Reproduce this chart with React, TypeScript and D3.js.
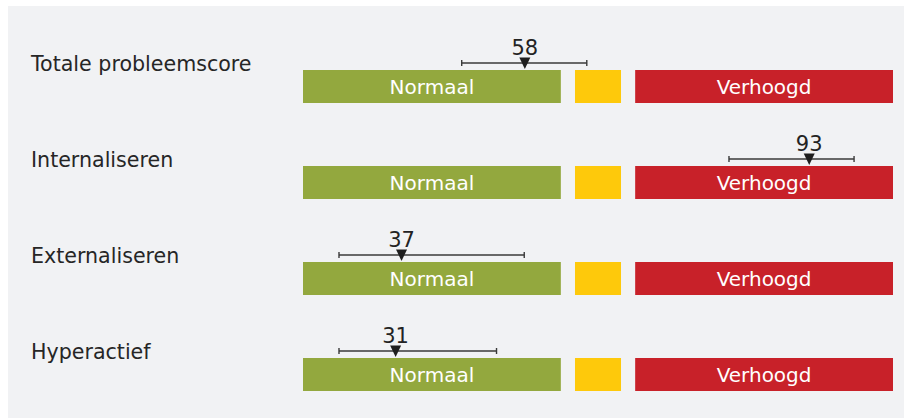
import * as d3 from 'd3'

// rows
const categories = ['Totale probleemscore', 'Internaliseren', 'Externaliseren', 'Hyperactief']
const scores = [58, 93, 37, 31]
// positions on the 0-100 band scale (marker and interval)
const markerPos = [37.6, 85.8, 16.7, 15.7]
const lowerPos = [26.9, 72.2, 6.1, 6.1]
const upperPos = [48.1, 93.4, 37.5, 32.8]

// zones on the same scale
const zoneLabels = ['Normaal', '', 'Verhoogd']
const zoneStart = [0, 46.1, 56.3]
const zoneEnd = [43.7, 53.9, 100]
const zoneColors = ['#93a83e', '#fec90b', '#c82129']

const W = 904
const H = 418
const FONT = '"DejaVu Sans", sans-serif'

export default function App() {
  const x = d3.scaleLinear().domain([0, 100]).range([303, 893])
  const y = d3.scaleBand<string>()
    .domain(categories)
    .range([70, 391])
    .paddingInner(0.65625)
    .paddingOuter(0)
  const bh = y.bandwidth()

  return (
    <svg width={W} height={H} style={{ position: 'absolute', left: 0, top: 0, display: 'block' }}>
      <rect x={8} y={6} width={W - 8} height={H - 6} fill="#f1f2f4" />
      {categories.map((c, i) => {
        const top = y(c) ?? 0
        const mx = x(markerPos[i])
        const ly = top - 7
        return (
          <g key={c}>
            <text x={31} y={top + 1} fontFamily={FONT} fontSize={20.6} fill="#262626">{c}</text>
            {zoneLabels.map((z, j) => (
              <g key={j}>
                <rect x={x(zoneStart[j])} y={top} width={x(zoneEnd[j]) - x(zoneStart[j])} height={bh}
                  fill={zoneColors[j]} />
                {z && (
                  <text x={(x(zoneStart[j]) + x(zoneEnd[j])) / 2} y={top + 24.3} textAnchor="middle"
                    fontFamily={FONT} fontSize={20} fill="#ffffff">{z}</text>
                )}
              </g>
            ))}
            <line x1={x(lowerPos[i])} x2={x(upperPos[i])} y1={ly} y2={ly} stroke="#3a3a3a" strokeWidth={1.4} />
            <line x1={x(lowerPos[i])} x2={x(lowerPos[i])} y1={ly - 3} y2={ly + 3} stroke="#3a3a3a" strokeWidth={1.4} />
            <line x1={x(upperPos[i])} x2={x(upperPos[i])} y1={ly - 3} y2={ly + 3} stroke="#3a3a3a" strokeWidth={1.4} />
            <path d={`M${mx - 5.5},${top - 12.5} L${mx + 5.5},${top - 12.5} L${mx},${top - 1} Z`} fill="#1e1e1e" />
            <text x={mx} y={top - 14.7} textAnchor="middle" fontFamily={FONT} fontSize={21} fill="#232323">
              {scores[i]}
            </text>
          </g>
        )
      })}
    </svg>
  )
}
